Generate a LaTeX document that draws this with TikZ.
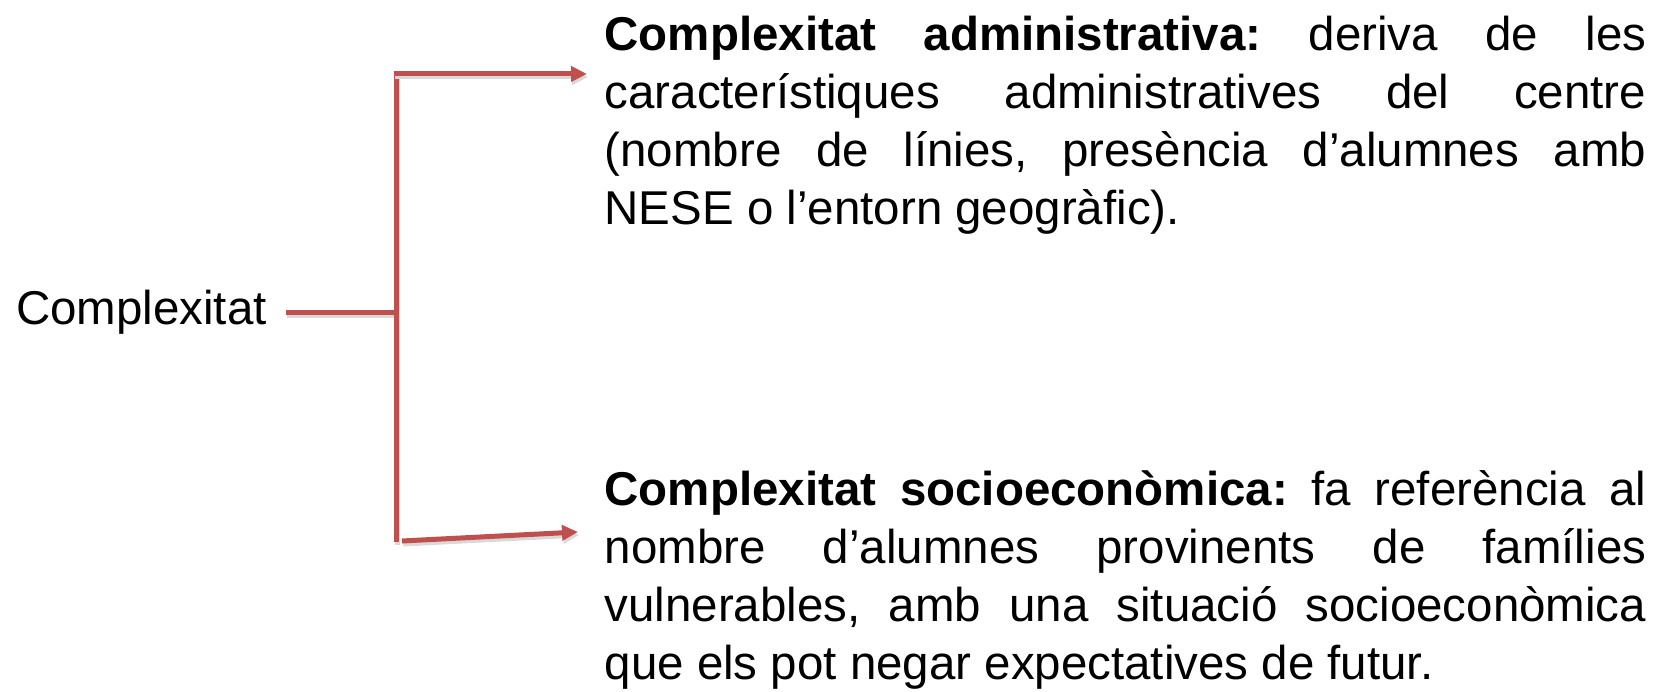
\documentclass[tikz,border=0pt]{standalone}
\usepackage{fontspec}
\setmainfont{Liberation Sans}
\usetikzlibrary{arrows.meta}
\definecolor{brickred}{HTML}{C0504D}
\hbadness=10000
\frenchspacing

\tikzset{
  link/.style={draw=brickred, line width=0.05cm,
    preaction={draw=black!15, line width=0.05cm, transform canvas={xshift=0.012cm, yshift=-0.03cm}}},
  arrowtip/.style={-{Triangle[length=0.16cm, width=0.15cm]}},
  para/.style={anchor=base west, inner sep=0pt, text width=10.41cm, align=justify,
    font=\fontsize{13.5}{16.4}\selectfont}
}

\begin{document}
\begin{tikzpicture}[x=0.01cm, y=0.01cm]
  \useasboundingbox (0,0) rectangle (1664,691);
  % label and the two branches
  \node[anchor=base west, inner sep=0pt, outer xsep=0.19cm, font=\fontsize{13.5}{16.4}\selectfont] (lbl) at (-3,366) {Complexitat};
  \node[para] (admin) at (604,640) {\textbf{Complexitat administrativa:} deriva de les\linebreak
    característiques administratives del centre\linebreak
    (nombre de línies, presència d’alumnes amb\linebreak
    NESE o l’entorn geogràfic).};
  \node[para] (socio) at (604,185) {\textbf{Complexitat socioeconòmica:} fa referència al\linebreak
    nombre d’alumnes provinents de famílies\linebreak
    vulnerables, amb una situació socioeconòmica\linebreak
    que els pot negar expectatives de futur.};
  % bracket
  \coordinate (top) at (396,617);
  \coordinate (bot) at (396,149);
  \coordinate (tipA) at (587,617);
  \coordinate (startB) at (402,150);
  \coordinate (tipB) at (578,159);
  \draw[link] (lbl.east) -- (lbl.east -| top);
  \draw[link] (bot) -- (top);
  \draw[link, arrowtip] ([xshift=-0.025cm]top) -- (tipA);
  \draw[link, arrowtip] (startB) -- (tipB);
\end{tikzpicture}
\end{document}
